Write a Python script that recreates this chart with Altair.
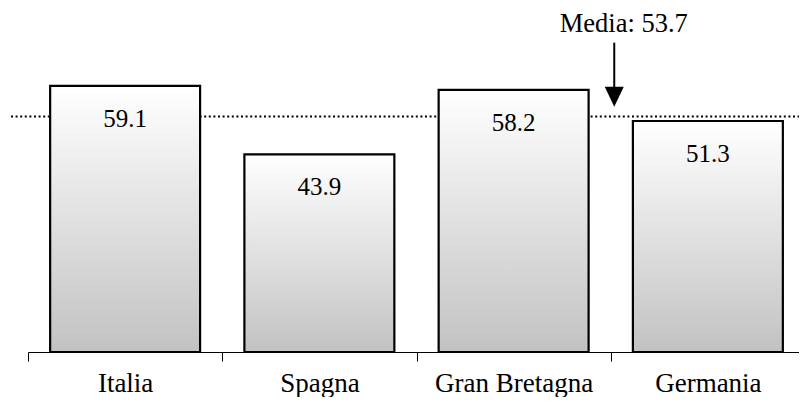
import altair as alt
import pandas as pd

# ---- data ----
paesi = ["Italia", "Spagna", "Gran Bretagna", "Germania"]
valori = [59.1, 43.9, 58.2, 51.3]
etichette = ["59.1", "43.9", "58.2", "51.3"]
media_testo = ["Media: 53.7"]
media_linea = [52.3]          # level at which the dotted line is drawn
media_paese = ["Germania"]    # band next to which the arrow sits

# annotation levels (value units)
y_testo = [71.0]
y_freccia_top = [68.7]
y_freccia_bot = [57.5]
y_punta = [56.7]

W, H = 771, 344          # visible plot area
X_RANGE = 777            # band range runs slightly past the right edge, as in the reference
Y_MAX = 76.4
FONT = "Liberation Serif"

df = pd.DataFrame({"paese": paesi, "valore": valori, "etichetta": etichette})
df_media = pd.DataFrame({"m": media_linea})
df_ann = pd.DataFrame({
    "paese": media_paese, "testo": media_testo, "yt": y_testo,
    "ya": y_freccia_top, "yb": y_freccia_bot, "yp": y_punta,
})

xscale = alt.Scale(paddingInner=0, paddingOuter=0, range=[0, X_RANGE])
x = alt.X(
    "paese:N", sort=paesi, title=None, scale=xscale,
    axis=alt.Axis(
        labelAngle=0, labelFontSize=27, labelFont=FONT, labelColor="black",
        tickSize=9, tickColor="black", tickWidth=1, domainColor="black", domainWidth=1,
        tickBand="extent", labelPadding=9, grid=False,
    ),
)
yscale = alt.Scale(domain=[0, Y_MAX], nice=False, zero=True)

rule_media = alt.Chart(df_media).mark_rule(
    strokeDash=[2, 2.6], strokeWidth=2, color="black"
).encode(
    y=alt.Y("m:Q", scale=yscale, axis=None),
    x=alt.value(-17), x2=alt.value(X_RANGE),
)

bars = alt.Chart(df).mark_bar(
    width=alt.RelativeBandSize(0.772),
    fill=alt.Gradient(
        gradient="linear",
        stops=[alt.GradientStop(color="#ffffff", offset=0),
               alt.GradientStop(color="#c2c2c2", offset=1)],
        x1=0, x2=0, y1=0, y2=1,
    ),
    stroke="black", strokeWidth=2.2,
).encode(
    x=x,
    y=alt.Y("valore:Q", scale=yscale, axis=None),
)

labels = alt.Chart(df).mark_text(
    font=FONT, fontSize=25, baseline="alphabetic", dy=41, color="black"
).encode(
    x=alt.X("paese:N", sort=paesi),
    y=alt.Y("valore:Q"),
    text="etichetta:N",
)

arrow_line = alt.Chart(df_ann).mark_rule(
    strokeWidth=2, color="black", xOffset=3.5
).encode(
    x=alt.X("paese:N", sort=paesi, bandPosition=0),
    y=alt.Y("ya:Q"), y2="yb:Q",
)

arrow_head = alt.Chart(df_ann).mark_point(
    shape="M-0.95,-1L0.95,-1L0,1Z", size=400, filled=True,
    color="black", opacity=1, strokeWidth=0, xOffset=3.5,
).encode(
    x=alt.X("paese:N", sort=paesi, bandPosition=0),
    y=alt.Y("yp:Q"),
)

media_text = alt.Chart(df_ann).mark_text(
    font=FONT, fontSize=26.5, baseline="alphabetic", align="center",
    color="black", xOffset=13,
).encode(
    x=alt.X("paese:N", sort=paesi, bandPosition=0),
    y=alt.Y("yt:Q"),
    text="testo:N",
)

chart = alt.layer(
    rule_media, bars, labels, arrow_line, arrow_head, media_text
).properties(
    width=W, height=H,
    autosize=alt.AutoSizeParams(type="none"),
    padding={"left": 20, "top": 0, "right": 0, "bottom": 45},
).configure_view(stroke=None)

chart.save("out.html", embed_options={"renderer": "svg", "actions": False})
